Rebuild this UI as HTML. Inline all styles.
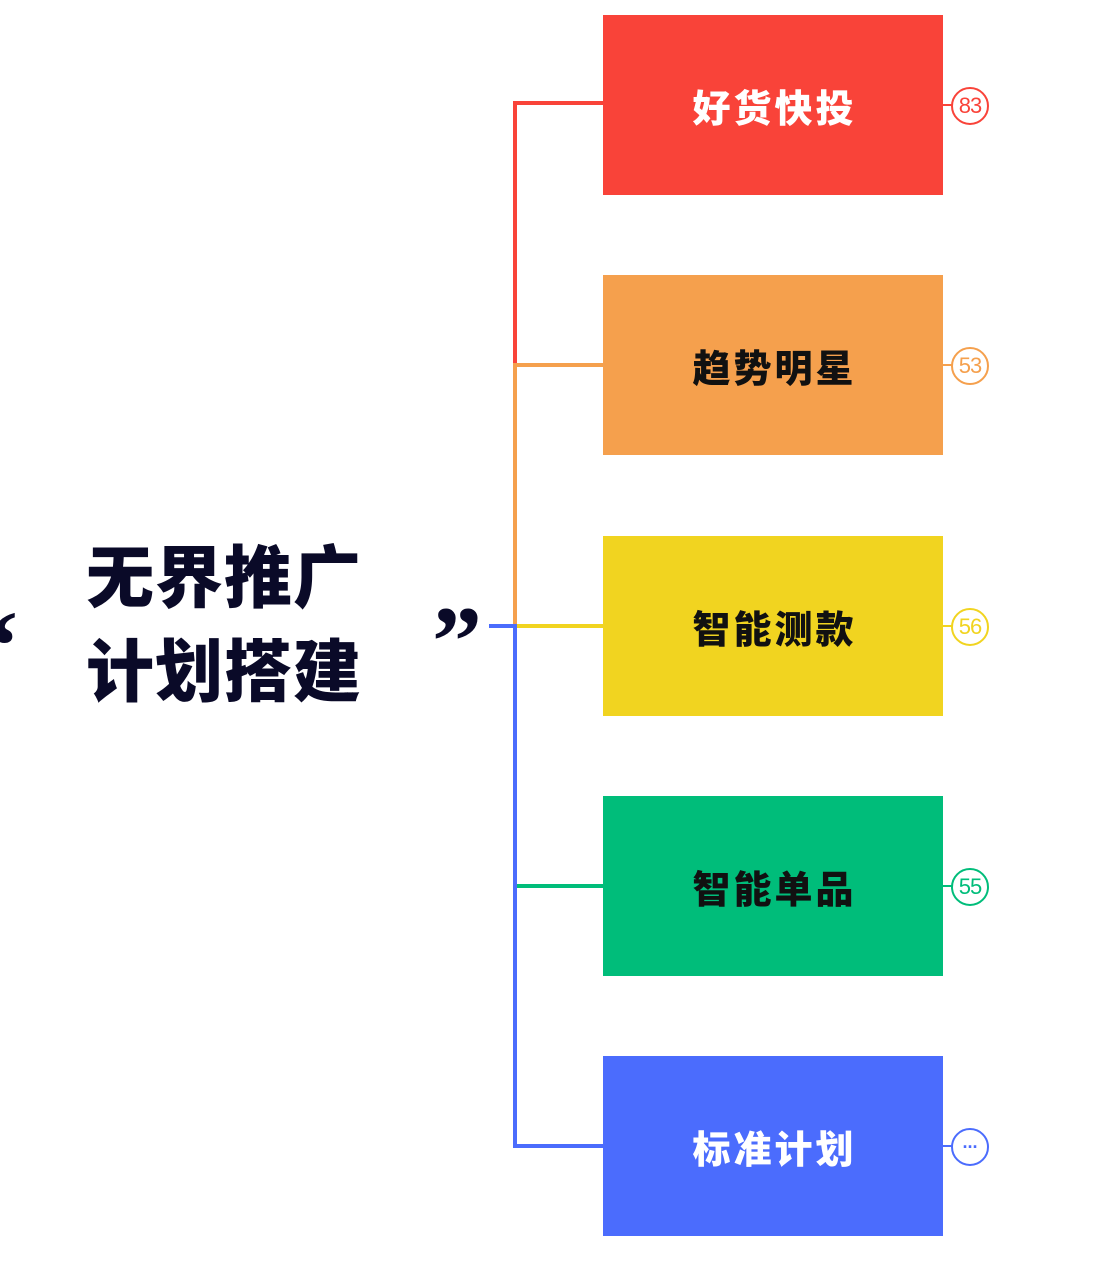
<!DOCTYPE html>
<html><head><meta charset="utf-8"><style>
body{margin:0;width:1115px;height:1274px;background:#fff;position:relative;overflow:hidden;font-family:"Liberation Sans","Noto Sans CJK SC",sans-serif}
.b{position:absolute;left:603px;width:340px;height:180px;display:flex;align-items:center;justify-content:center;font-size:38px;font-weight:900;letter-spacing:3px;text-indent:3px}
.l{position:absolute;background:var(--c)}
.c{position:absolute;left:951px;width:34px;height:34px;border:2px solid var(--c);border-radius:50%;background:#fff;color:var(--c);font-size:22px;display:flex;align-items:center;justify-content:center;letter-spacing:-1px}
.t{position:absolute;left:86px;font-size:68px;font-weight:900;color:#0a0a28;line-height:1;letter-spacing:1px}
.q{position:absolute;font-size:100px;font-weight:900;color:#0a0a28;font-family:"Liberation Serif",serif;line-height:1}
</style></head><body>
<div class="q" style="left:-32px;top:596px">“</div>
<div class="q" style="left:432px;top:592px">”</div>
<div class="t" style="top:545px">无界推广</div>
<div class="t" style="top:639px">计划搭建</div>

<div class="l" style="--c:#f94339;left:513px;top:101px;width:4px;height:266px"></div>
<div class="l" style="--c:#f94339;left:513px;top:101px;width:90px;height:4px"></div>
<div class="l" style="--c:#f5a04d;left:513px;top:363px;width:4px;height:265px"></div>
<div class="l" style="--c:#f5a04d;left:513px;top:363px;width:90px;height:4px"></div>
<div class="l" style="--c:#f1d420;left:515px;top:624px;width:88px;height:4px"></div>
<div class="l" style="--c:#4b6cfd;left:489px;top:624px;width:28px;height:4px"></div>
<div class="l" style="--c:#4b6cfd;left:513px;top:624px;width:4px;height:524px"></div>
<div class="l" style="--c:#00bd7a;left:517px;top:884px;width:86px;height:4px"></div>
<div class="l" style="--c:#4b6cfd;left:513px;top:1144px;width:90px;height:4px"></div>

<div class="b" style="top:15px;background:#f94339;color:#fff">好货快投</div>
<div class="b" style="top:275px;background:#f5a04d;color:#111">趋势明星</div>
<div class="b" style="top:536px;background:#f1d420;color:#111">智能测款</div>
<div class="b" style="top:796px;background:#00bd7a;color:#111">智能单品</div>
<div class="b" style="top:1056px;background:#4b6cfd;color:#fff">标准计划</div>

<div class="l" style="--c:#f94339;left:943px;top:104px;width:10px;height:2px"></div>
<div class="c" style="--c:#f94339;top:87px">83</div>
<div class="l" style="--c:#f5a04d;left:943px;top:364px;width:10px;height:2px"></div>
<div class="c" style="--c:#f5a04d;top:347px">53</div>
<div class="l" style="--c:#f1d420;left:943px;top:625px;width:10px;height:2px"></div>
<div class="c" style="--c:#f1d420;top:608px">56</div>
<div class="l" style="--c:#00bd7a;left:943px;top:885px;width:10px;height:2px"></div>
<div class="c" style="--c:#00bd7a;top:868px">55</div>
<div class="l" style="--c:#4b6cfd;left:943px;top:1145px;width:10px;height:2px"></div>
<div class="c" style="--c:#4b6cfd;top:1128px;font-size:18px;font-weight:bold">···</div>
</body></html>
